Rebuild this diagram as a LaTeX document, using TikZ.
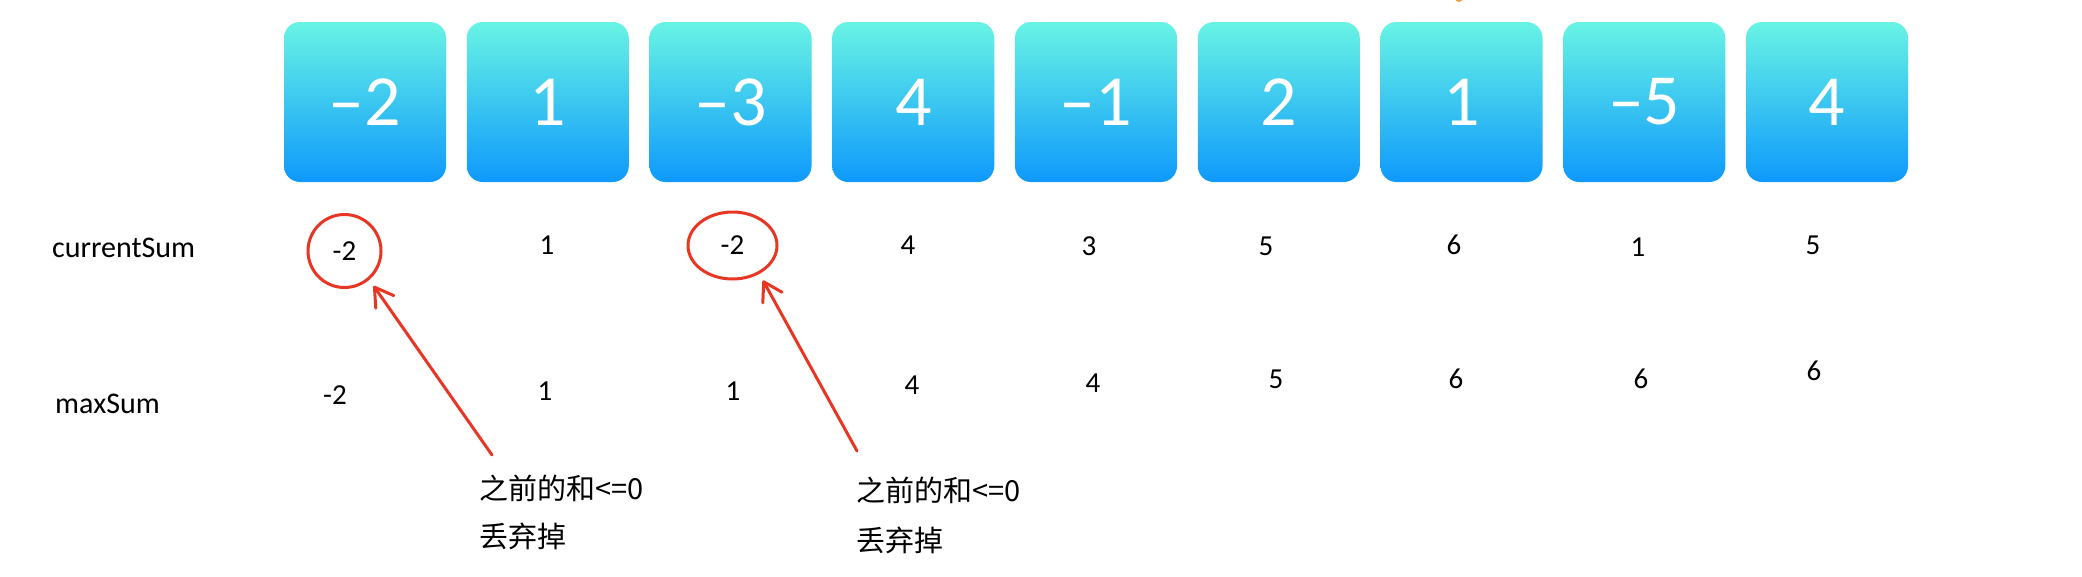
\documentclass[tikz,border=0pt]{standalone}
\usepackage{fontspec}
\setmainfont{Carlito}
\newfontfamily\cjk{Noto Sans CJK SC}
\usetikzlibrary{shapes.geometric,arrows.meta,calc}
\definecolor{boxtop}{RGB}{104,244,228}
\definecolor{boxbot}{RGB}{14,153,252}
\definecolor{mark}{RGB}{232,54,36}
\definecolor{dot}{RGB}{245,160,60}
\tikzset{
  cell/.style={rounded corners=16pt, top color=boxtop, bottom color=boxbot,
    minimum width=162pt, minimum height=160pt, inner sep=0pt,
    text=white, font=\fontsize{72}{72}\selectfont},
  val/.style={inner sep=0pt, font=\fontsize{29}{29}\selectfont},
  rowlabel/.style={inner sep=0pt, anchor=west, font=\fontsize{30}{30}\selectfont},
  ring/.style={ellipse, draw=mark, line width=3pt, inner sep=0pt, outer sep=0pt,
    font=\fontsize{29}{29}\selectfont},
  note/.style={inner sep=0pt, anchor=west, font=\cjk\fontsize{29}{29}\selectfont},
  pointer/.style={draw=mark, line width=3pt, line cap=round,
    -{Straight Barb[length=18pt, width=22pt, line width=3pt, line cap=round, line join=round]},
    shorten >=9pt}
}
\begin{document}
\begin{tikzpicture}[x=1pt, y=-1pt]
\useasboundingbox (0,0) rectangle (2082,576);
\fill[white] (0,0) rectangle (2082,576);
\fill[dot] (1459,-2) circle (4pt);
% top boxes
\foreach \v [count=\i from 0] in {\textendash2,1,\textendash3,4,\textendash1,2,1,\textendash5,4}{
  \node[cell] (b\i) at ({365+182.75*\i},102) {\v};
}
% row labels
\node[rowlabel] (lcur) at (52,248) {currentSum};
\node[rowlabel] (lmax) at (55,404) {maxSum};
% currentSum row
\node[ring, minimum width=73pt, minimum height=73pt] (c0) at (344.5,251) {-2};
\node[val] (c1) at (547,245) {1};
\node[ring, minimum width=89pt, minimum height=67pt] (c2) at (732.5,245.5) {-2};
\node[val] (c3) at (908,245) {4};
\node[val] (c4) at (1089,246) {3};
\node[val] (c5) at (1266,246) {5};
\node[val] (c6) at (1454,245) {6};
\node[val] (c7) at (1638,247) {1};
\node[val] (c8) at (1813,245) {5};
% maxSum row
\node[val] (m0) at (335,395) {-2};
\node[val] (m1) at (545,391) {1};
\node[val] (m2) at (733,391) {1};
\node[val] (m3) at (912,385) {4};
\node[val] (m4) at (1093,383) {4};
\node[val] (m5) at (1276,379) {5};
\node[val] (m6) at (1456,379) {6};
\node[val] (m7) at (1641,379) {6};
\node[val] (m8) at (1814,371) {6};
% notes
\node[note] (n1a) at (479,488) {之前的和<=0};
\node[note] (n1b) at (479,536) {丢弃掉};
\node[note] (n2a) at (856,490) {之前的和<=0};
\node[note] (n2b) at (856,540) {丢弃掉};
\coordinate (t1) at (492,455);
\coordinate (t2) at (857,451);
\draw[pointer] (t1) -- (c0.-49);
\draw[pointer] (t2) -- (c2.-46);
\end{tikzpicture}
\end{document}
